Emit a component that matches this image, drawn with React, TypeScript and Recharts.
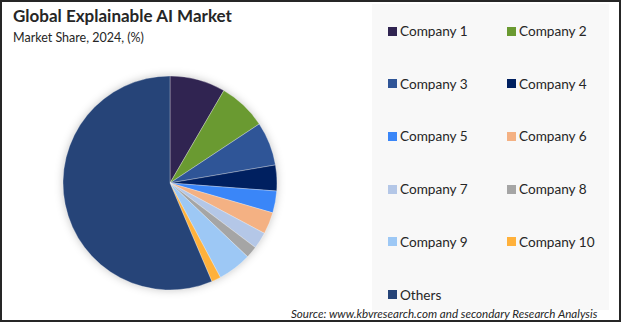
import { PieChart, Pie, Cell } from 'recharts';

const companies = [
  'Company 1', 'Company 2', 'Company 3', 'Company 4', 'Company 5',
  'Company 6', 'Company 7', 'Company 8', 'Company 9', 'Company 10', 'Others',
];
const shares = [8.4, 7.3, 6.6, 3.9, 3.3, 3.3, 2.5, 1.8, 5.1, 1.4, 56.4];
const colors = [
  '#302451', '#6a9a31', '#2f5597', '#002060', '#3a86f8',
  '#f4b183', '#b4c7e7', '#a5a5a5', '#9dc8f5', '#ffb13b', '#264478',
];

const data = companies.map((name, i) => ({ name, value: shares[i] }));

const FONT = 'Lato, "Open Sans", sans-serif';

function LegendGrid() {
  return (
    <div style={{ position: 'absolute', left: 372, top: 4, width: 237, height: 306, background: '#f8f8f8' }}>
      {companies.map((name, i) => {
        const row = Math.floor(i / 2);
        const col = i % 2;
        return (
          <div
            key={name}
            style={{
              position: 'absolute',
              left: 16 + col * 119,
              top: 27 + row * 52.7 - 9,
              height: 18,
              display: 'flex',
              alignItems: 'center',
              fontFamily: FONT,
              fontSize: 13.6,
              color: '#262626',
              whiteSpace: 'nowrap',
            }}
          >
            <span style={{ width: 9, height: 9, background: colors[i], marginRight: 3, display: 'inline-block' }} />
            {name}
          </div>
        );
      })}
    </div>
  );
}

export default function App() {
  return (
    <div style={{ position: 'fixed', left: 0, top: 0, width: 621, height: 322, background: '#fff' }}>
      <style>{`.recharts-pie { filter: drop-shadow(0 0 4px rgba(0,0,0,0.22)); }`}</style>
      <LegendGrid />
      <PieChart
        width={372}
        height={322}
        margin={{ top: 0, right: 0, bottom: 0, left: 0 }}
        style={{ position: 'absolute', left: 0, top: 0 }}
      >
        <Pie
          data={data}
          dataKey="value"
          nameKey="name"
          cx={170}
          cy={183}
          outerRadius={107}
          startAngle={90}
          endAngle={-270}
          stroke="#ffffff"
          strokeWidth={0.3}
          isAnimationActive={false}
        >
          {data.map((d, i) => (
            <Cell key={d.name} fill={colors[i]} />
          ))}
        </Pie>
      </PieChart>
      <div style={{ position: 'absolute', left: 13, top: 6, fontFamily: FONT, fontWeight: 700, fontSize: 17, color: '#262626', lineHeight: '20px' }}>
        Global Explainable AI Market
      </div>
      <div style={{ position: 'absolute', left: 13, top: 30, fontFamily: FONT, fontSize: 12.5, color: '#262626', lineHeight: '16px' }}>
        Market Share, 2024, (%)
      </div>
      <div style={{ position: 'absolute', left: 291, top: 306, fontFamily: FONT, fontStyle: 'italic', fontSize: 11.6, color: '#262626', lineHeight: '15px' }}>
        Source: www.kbvresearch.com and secondary Research Analysis
      </div>
      <div style={{ position: 'absolute', left: 0, top: 0, width: 621, height: 322, boxSizing: 'border-box', border: '2px solid #262626', pointerEvents: 'none' }} />
    </div>
  );
}
